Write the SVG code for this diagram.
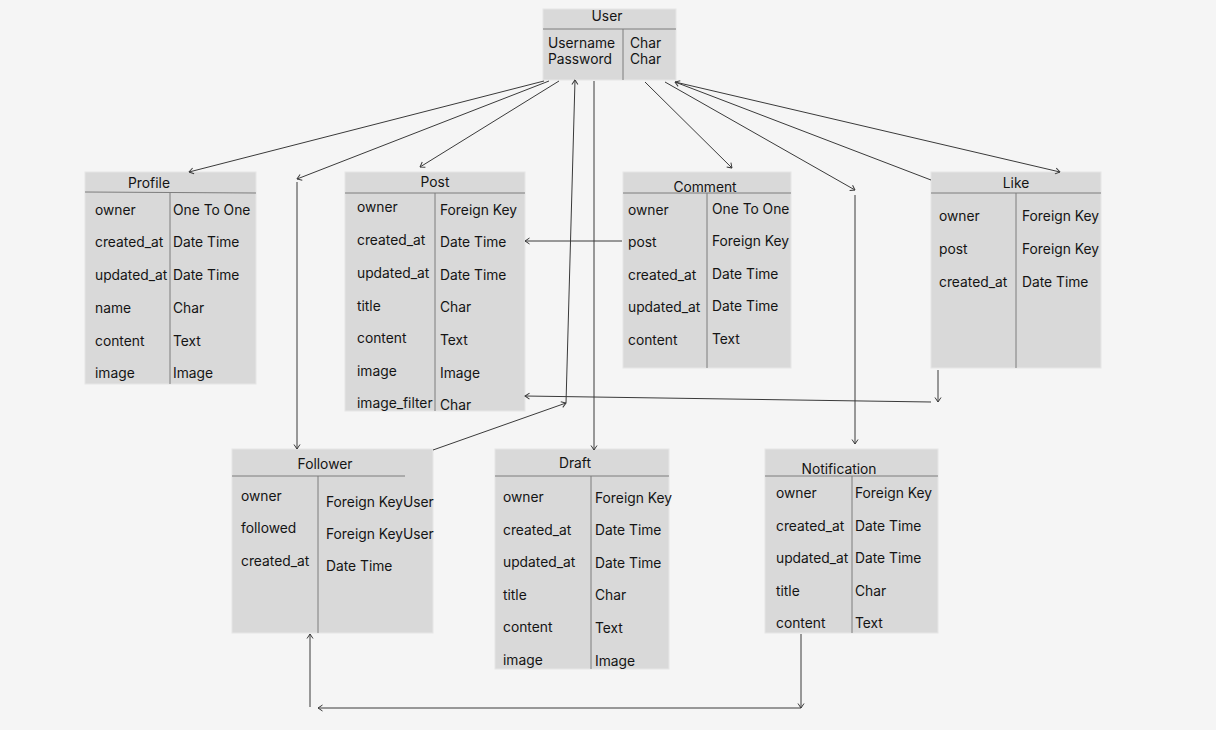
<svg xmlns="http://www.w3.org/2000/svg" width="1216" height="730" viewBox="0 0 1216 730">
<style>
.box{fill:#d9d9d9;stroke:#e6e6e6;stroke-width:1}
.div{stroke:#7d7d7d;stroke-width:1;fill:none}
.t{font-family:Inter,"Noto Sans","Liberation Sans",sans-serif;font-size:13.8px;fill:#141414;dominant-baseline:central}
.h{text-anchor:middle}
.c{stroke:#3a3a3a;stroke-width:1;fill:none}
.a{marker-end:url(#arr)}
</style>
<defs>
<marker id="arr" viewBox="0 0 8 8" refX="7.5" refY="4" markerWidth="8" markerHeight="8" markerUnits="userSpaceOnUse" orient="auto">
<path d="M3,1 L7.5,4 L3,7" fill="none" stroke="#3a3a3a" stroke-width="1"/>
</marker>
</defs>
<rect width="1216" height="730" fill="#f5f5f5"/>

<g id="user">
<rect class="box" x="543" y="9" width="133" height="71"/>
<line class="div" x1="543" y1="29" x2="676" y2="29"/>
<line class="div" x1="623" y1="29" x2="623" y2="80"/>
<text class="t h" x="607" y="16">User</text>
<text class="t" x="548" y="43">Username</text>
<text class="t" x="548" y="59">Password</text>
<text class="t" x="630" y="43">Char</text>
<text class="t" x="630" y="59">Char</text>
</g>

<g id="profile">
<rect class="box" x="85" y="172" width="171" height="212"/>
<line class="div" x1="85" y1="192" x2="256" y2="193"/>
<line class="div" x1="170" y1="193" x2="170" y2="384"/>
<text class="t h" x="149" y="183">Profile</text>
<text class="t" x="95" y="210">owner</text>
<text class="t" x="95" y="242">created_at</text>
<text class="t" x="95" y="275">updated_at</text>
<text class="t" x="95" y="308">name</text>
<text class="t" x="95" y="341">content</text>
<text class="t" x="95" y="373">image</text>
<text class="t" x="173" y="210">One To One</text>
<text class="t" x="173" y="242">Date Time</text>
<text class="t" x="173" y="275">Date Time</text>
<text class="t" x="173" y="308">Char</text>
<text class="t" x="173" y="341">Text</text>
<text class="t" x="173" y="373">Image</text>
</g>

<g id="post">
<rect class="box" x="345" y="172" width="180" height="239"/>
<line class="div" x1="345" y1="193" x2="525" y2="193"/>
<line class="div" x1="435" y1="193" x2="435" y2="411"/>
<text class="t h" x="435" y="182">Post</text>
<text class="t" x="357" y="207">owner</text>
<text class="t" x="357" y="240">created_at</text>
<text class="t" x="357" y="273">updated_at</text>
<text class="t" x="357" y="306">title</text>
<text class="t" x="357" y="338">content</text>
<text class="t" x="357" y="371">image</text>
<text class="t" x="357" y="403">image_filter</text>
<text class="t" x="440" y="210">Foreign Key</text>
<text class="t" x="440" y="242">Date Time</text>
<text class="t" x="440" y="275">Date Time</text>
<text class="t" x="440" y="307">Char</text>
<text class="t" x="440" y="340">Text</text>
<text class="t" x="440" y="373">Image</text>
<text class="t" x="440" y="405">Char</text>
</g>

<g id="comment">
<rect class="box" x="623" y="172" width="168" height="196"/>
<line class="div" x1="623" y1="193" x2="791" y2="193"/>
<line class="div" x1="707" y1="193" x2="707" y2="368"/>
<text class="t h" x="705" y="187">Comment</text>
<text class="t" x="628" y="210">owner</text>
<text class="t" x="628" y="242">post</text>
<text class="t" x="628" y="275">created_at</text>
<text class="t" x="628" y="307">updated_at</text>
<text class="t" x="628" y="340">content</text>
<text class="t" x="712" y="209">One To One</text>
<text class="t" x="712" y="241">Foreign Key</text>
<text class="t" x="712" y="274">Date Time</text>
<text class="t" x="712" y="306">Date Time</text>
<text class="t" x="712" y="339">Text</text>
</g>

<g id="like">
<rect class="box" x="931" y="172" width="170" height="196"/>
<line class="div" x1="931" y1="193" x2="1101" y2="193"/>
<line class="div" x1="1016" y1="193" x2="1016" y2="368"/>
<text class="t h" x="1016" y="183">Like</text>
<text class="t" x="939" y="216">owner</text>
<text class="t" x="939" y="249">post</text>
<text class="t" x="939" y="282">created_at</text>
<text class="t" x="1022" y="216">Foreign Key</text>
<text class="t" x="1022" y="249">Foreign Key</text>
<text class="t" x="1022" y="282">Date Time</text>
</g>

<g id="follower">
<rect class="box" x="232" y="449" width="201" height="184"/>
<line class="div" x1="232" y1="476" x2="405" y2="476"/>
<line class="div" x1="318" y1="476" x2="318" y2="633"/>
<text class="t h" x="325" y="464">Follower</text>
<text class="t" x="241" y="496">owner</text>
<text class="t" x="241" y="528">followed</text>
<text class="t" x="241" y="561">created_at</text>
<text class="t" x="326" y="502">Foreign KeyUser</text>
<text class="t" x="326" y="534">Foreign KeyUser</text>
<text class="t" x="326" y="566">Date Time</text>
</g>

<g id="draft">
<rect class="box" x="495" y="449" width="174" height="220"/>
<line class="div" x1="495" y1="476" x2="669" y2="476"/>
<line class="div" x1="591" y1="476" x2="591" y2="669"/>
<text class="t h" x="575" y="463">Draft</text>
<text class="t" x="503" y="497">owner</text>
<text class="t" x="503" y="530">created_at</text>
<text class="t" x="503" y="562">updated_at</text>
<text class="t" x="503" y="595">title</text>
<text class="t" x="503" y="627">content</text>
<text class="t" x="503" y="660">image</text>
<text class="t" x="595" y="498">Foreign Key</text>
<text class="t" x="595" y="530">Date Time</text>
<text class="t" x="595" y="563">Date Time</text>
<text class="t" x="595" y="595">Char</text>
<text class="t" x="595" y="628">Text</text>
<text class="t" x="595" y="661">Image</text>
</g>

<g id="notification">
<rect class="box" x="765" y="449" width="173" height="184"/>
<line class="div" x1="765" y1="476" x2="938" y2="476"/>
<line class="div" x1="852" y1="476" x2="852" y2="633"/>
<text class="t h" x="839" y="469">Notification</text>
<text class="t" x="776" y="493">owner</text>
<text class="t" x="776" y="526">created_at</text>
<text class="t" x="776" y="558">updated_at</text>
<text class="t" x="776" y="591">title</text>
<text class="t" x="776" y="623">content</text>
<text class="t" x="855" y="493">Foreign Key</text>
<text class="t" x="855" y="526">Date Time</text>
<text class="t" x="855" y="558">Date Time</text>
<text class="t" x="855" y="591">Char</text>
<text class="t" x="855" y="623">Text</text>
</g>

<g id="connectors">
<line class="c a" x1="544" y1="81" x2="189" y2="172"/>
<line class="c a" x1="549" y1="81" x2="297" y2="179"/>
<line class="c a" x1="297" y1="182" x2="297" y2="449"/>
<line class="c a" x1="559" y1="81" x2="420" y2="167"/>
<line class="c a" x1="433" y1="450" x2="566" y2="403"/>
<line class="c a" x1="566" y1="403" x2="575" y2="80"/>
<line class="c a" x1="594" y1="81" x2="594" y2="450"/>
<line class="c a" x1="645" y1="82" x2="732" y2="168"/>
<line class="c a" x1="665" y1="82" x2="855" y2="190"/>
<line class="c a" x1="855" y1="195" x2="855" y2="444"/>
<line class="c a" x1="931" y1="180" x2="675" y2="82"/>
<line class="c a" x1="675" y1="82" x2="1060" y2="172"/>
<line class="c a" x1="622" y1="241" x2="525" y2="241"/>
<line class="c a" x1="938" y1="370" x2="938" y2="402"/>
<line class="c a" x1="931" y1="402" x2="525" y2="396"/>
<line class="c a" x1="801" y1="634" x2="801" y2="708"/>
<line class="c a" x1="801" y1="708" x2="318" y2="708"/>
<line class="c a" x1="310" y1="707" x2="310" y2="634"/>
</g>
</svg>
